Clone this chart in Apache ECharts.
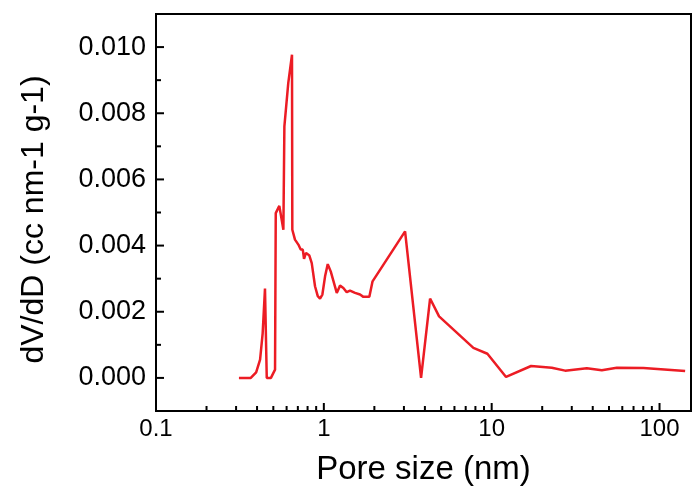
<!DOCTYPE html>
<html>
<head>
<meta charset="utf-8">
<style>
html, body { margin: 0; padding: 0; background: #fff; }
#chart { width: 693px; height: 493px; }
</style>
<script src="https://cdn.jsdelivr.net/npm/echarts@6/dist/echarts.min.js"></script>
</head>
<body>
<div id="chart"></div>
<script>
// pore size (nm) and dV/dD (cc nm-1 g-1)
const poreSize = [
  0.312, 0.367, 0.395, 0.417, 0.432, 0.446, 0.457, 0.484, 0.512, 0.517,
  0.543, 0.556, 0.574, 0.582, 0.614, 0.646, 0.649, 0.673, 0.705, 0.728,
  0.749, 0.762, 0.783, 0.820, 0.847, 0.886, 0.920, 0.949, 0.980, 1.017,
  1.055, 1.099, 1.194, 1.249, 1.307, 1.369, 1.432, 1.534, 1.643, 1.720,
  1.867, 1.951, 3.048, 3.796, 4.295, 4.859, 7.78, 9.43, 12.18, 17.17,
  22.81, 27.38, 36.88, 45.3, 55.66, 80.2, 142.1
];
const dVdD = [
  0.00000, 0.00000, 0.00017, 0.00055, 0.00135, 0.00270, 0.00000, 0.00000, 0.00025, 0.00498,
  0.00520, 0.00514, 0.00448, 0.00760, 0.00892, 0.00977, 0.00448, 0.00418, 0.00403, 0.00388,
  0.00388, 0.00360, 0.00378, 0.00370, 0.00347, 0.00277, 0.00247, 0.00240, 0.00252, 0.00307,
  0.00344, 0.00322, 0.00257, 0.00279, 0.00272, 0.00259, 0.00264, 0.00257, 0.00252, 0.00245,
  0.00245, 0.00292, 0.00443, 0.00000, 0.00240, 0.00186, 0.00091, 0.00073, 0.00003, 0.00036,
  0.00031, 0.00022, 0.00029, 0.00023, 0.00031, 0.00030, 0.00021
];

// axis ranges and tick positions
const xMin = 0.1, xMax = 154;
const yMin = -0.001, yMax = 0.011;
const xMajorTicks = [0.1, 1, 10, 100];
const xMinorTicks = [0.2, 0.3, 0.4, 0.5, 0.6, 0.7, 0.8, 0.9,
  2, 3, 4, 5, 6, 7, 8, 9, 20, 30, 40, 50, 60, 70, 80, 90];
const yMajorTicks = [0, 0.002, 0.004, 0.006, 0.008, 0.010];
const yMinorTicks = [0.001, 0.003, 0.005, 0.007, 0.009];

const FONT = 'Liberation Sans';

// draws inward tick marks through the axes' own scales
function tickRenderer(axis) {
  return function (params, api) {
    const p = api.coord([api.value(0), api.value(1)]);
    const len = api.value(2);
    const end = axis === 'x' ? [p[0], p[1] - len] : [p[0] + len, p[1]];
    return {
      type: 'line',
      shape: { x1: p[0], y1: p[1], x2: end[0], y2: end[1] },
      style: { stroke: '#000', lineWidth: 2 }
    };
  };
}

const xTickData = xMajorTicks.map(v => [v, yMin, 8])
  .concat(xMinorTicks.map(v => [v, yMin, 5]));
const yTickData = yMajorTicks.map(v => [xMin, v, 8])
  .concat(yMinorTicks.map(v => [xMin, v, 5]));

const chart = echarts.init(document.getElementById('chart'), null, { renderer: 'canvas' });
chart.setOption({
  animation: false,
  backgroundColor: '#fff',
  grid: {
    left: 156, right: 2, top: 14, bottom: 82,
    show: true, borderColor: '#000', borderWidth: 2, backgroundColor: 'transparent'
  },
  xAxis: {
    type: 'log', logBase: 10, min: xMin, max: xMax,
    name: 'Pore size (nm)', nameLocation: 'middle', nameGap: 42,
    nameTextStyle: { fontFamily: FONT, fontSize: 33, color: '#000' },
    axisLine: { show: true, onZero: false, lineStyle: { color: '#000', width: 2 } },
    axisTick: { show: false },
    splitLine: { show: false },
    axisLabel: {
      fontFamily: FONT, fontSize: 24, color: '#000', margin: 6,
      showMaxLabel: false
    }
  },
  yAxis: {
    type: 'value', min: yMin, max: yMax, interval: 0.001,
    name: 'dV/dD (cc nm-1 g-1)', nameLocation: 'middle', nameGap: 106, nameRotate: 90,
    nameTextStyle: { fontFamily: FONT, fontSize: 32, color: '#000', padding: [0, 14, 0, 0] },
    axisLine: { show: true, onZero: false, lineStyle: { color: '#000', width: 2 } },
    axisTick: { show: false },
    splitLine: { show: false },
    axisLabel: {
      fontFamily: FONT, fontSize: 27, color: '#000', margin: 10,
      formatter: function (v) {
        const k = Math.round(v * 1000);
        return (k >= 0 && k <= 10 && k % 2 === 0) ? (k / 1000).toFixed(3) : '';
      }
    }
  },
  series: [
    {
      type: 'line',
      data: poreSize.map((x, i) => [x, dVdD[i]]),
      showSymbol: false,
      symbol: 'none',
      lineStyle: { color: '#ec1c24', width: 2.5 },
      z: 3
    },
    { type: 'custom', data: xTickData, renderItem: tickRenderer('x'), silent: true, clip: false, z: 4 },
    { type: 'custom', data: yTickData, renderItem: tickRenderer('y'), silent: true, clip: false, z: 4 }
  ]
});
</script>
</body>
</html>
